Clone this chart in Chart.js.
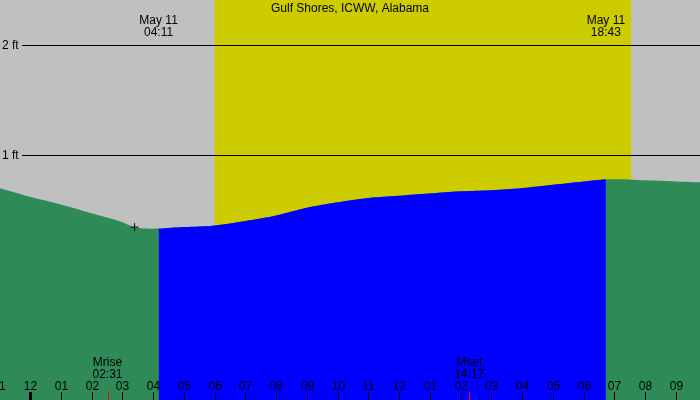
<!DOCTYPE html>
<html>
<head>
<meta charset="utf-8">
<script src="https://cdn.jsdelivr.net/npm/chart.js@4/dist/chart.umd.min.js"></script>
<style>
  html, body { margin: 0; padding: 0; background: #c0c0c0; }
  #wrap { width: 700px; height: 400px; }
</style>
</head>
<body>
<div id="wrap"><canvas id="tide"></canvas></div>
<script>
// Tide heights (ft), hours from midnight May 11
const tideHours = [-1, 0, 1, 2, 3, 3.4, 4, 5, 6, 7, 8, 9, 10, 11, 12, 13, 14, 15, 16, 17, 18, 19, 20, 21, 22];
const tideFeet  = [0.70, 0.62, 0.55, 0.47, 0.39, 0.345, 0.33, 0.345, 0.36, 0.40, 0.45, 0.52, 0.57, 0.61, 0.63, 0.65, 0.67, 0.68, 0.70, 0.73, 0.76, 0.78, 0.77, 0.76, 0.75];

// Night-time segment (blue), between the two top labels
const nightHours = [4.18, 5, 6, 7, 8, 9, 10, 11, 12, 13, 14, 15, 16, 17, 18, 18.72];
const nightFeet  = [0.33, 0.345, 0.36, 0.40, 0.45, 0.52, 0.57, 0.61, 0.63, 0.65, 0.67, 0.68, 0.70, 0.73, 0.76, 0.78];

const lowTide = { h: 3.4, ft: 0.345 };
const daylight = [6.0, 19.54];

const hourTicks  = [-1, 0, 1, 2, 3, 4, 5, 6, 7, 8, 9, 10, 11, 12, 13, 14, 15, 16, 17, 18, 19, 20, 21];
const hourLabels = ['11', '12', '01', '02', '03', '04', '05', '06', '07', '08', '09', '10', '11', '12', '01', '02', '03', '04', '05', '06', '07', '08', '09'];
const feetTicks  = [0, 1, 2];

const topLabels = [
    { h: 4.18, lines: ['May 11', '04:11'] },
    { h: 18.72, lines: ['May 11', '18:43'] }
];
const moonEvents = [
    { h: 2.52, lines: ['Mrise', '02:31'] },
    { h: 14.28, lines: ['Mset', '14:17'] }
];

const FONT = '12px "Liberation Sans", Arial, sans-serif';

// Background: gray + daylight band + ft gridlines
const backdrop = {
    id: 'backdrop',
    beforeDatasetsDraw(chart) {
        const { ctx, scales: { x, y } } = chart;
        ctx.save();
        ctx.fillStyle = '#c0c0c0';
        ctx.fillRect(0, 0, chart.width, chart.height);
        ctx.fillStyle = '#cccc00';
        const x0 = x.getPixelForValue(daylight[0]);
        const x1 = x.getPixelForValue(daylight[1]);
        ctx.fillRect(x0, 0, x1 - x0, chart.height);
        ctx.strokeStyle = '#000';
        ctx.lineWidth = 1;
        ctx.font = FONT;
        ctx.fillStyle = '#000';
        ctx.textBaseline = 'middle';
        feetTicks.forEach(f => {
            const py = Math.round(y.getPixelForValue(f)) + 0.5;
            ctx.beginPath();
            ctx.moveTo(22, py);
            ctx.lineTo(chart.width, py);
            ctx.stroke();
            ctx.fillText(f + ' ft', 2, py);
        });
        ctx.restore();
    },
    afterDatasetsDraw(chart) {
        const { ctx, scales: { x, y } } = chart;
        ctx.save();
        ctx.font = FONT;
        ctx.fillStyle = '#000';
        ctx.textAlign = 'center';
        ctx.textBaseline = 'alphabetic';
        ctx.fillText('Gulf Shores, ICWW, Alabama', 350, 12);
        topLabels.forEach(t => {
            const px = x.getPixelForValue(t.h);
            ctx.fillText(t.lines[0], px, 24);
            ctx.fillText(t.lines[1], px, 36);
        });
        moonEvents.forEach(m => {
            const px = x.getPixelForValue(m.h);
            ctx.fillText(m.lines[0], px, 366);
            ctx.fillText(m.lines[1], px, 378);
            ctx.strokeStyle = '#ff0000';
            ctx.beginPath();
            ctx.moveTo(Math.round(px) + 0.5, 392);
            ctx.lineTo(Math.round(px) + 0.5, 400);
            ctx.stroke();
        });
        ctx.strokeStyle = '#000';
        hourTicks.forEach((h, i) => {
            const px = Math.round(x.getPixelForValue(h)) + 0.5;
            ctx.fillText(hourLabels[i], px, 390);
            ctx.lineWidth = h === 0 ? 3 : 1;
            ctx.beginPath();
            ctx.moveTo(px, 392);
            ctx.lineTo(px, 400);
            ctx.stroke();
        });
        // low tide marker
        const lx = x.getPixelForValue(lowTide.h), ly = y.getPixelForValue(lowTide.ft);
        ctx.lineWidth = 1;
        ctx.beginPath();
        ctx.moveTo(lx - 4, ly); ctx.lineTo(lx + 4, ly);
        ctx.moveTo(lx, ly - 4); ctx.lineTo(lx, ly + 4);
        ctx.stroke();
        ctx.restore();
    }
};

new Chart(document.getElementById('tide'), {
    type: 'line',
    data: {
        datasets: [
            {
                data: nightHours.map((h, i) => ({ x: h, y: nightFeet[i] })),
                backgroundColor: '#0000ff',
                borderWidth: 0,
                pointRadius: 0,
                fill: 'start',
                tension: 0.4,
                order: 0
            },
            {
                data: tideHours.map((h, i) => ({ x: h, y: tideFeet[i] })),
                backgroundColor: '#2e8b57',
                borderWidth: 0,
                pointRadius: 0,
                fill: 'start',
                tension: 0.4,
                order: 1
            }
        ]
    },
    options: {
        responsive: true,
        maintainAspectRatio: false,
        animation: false,
        layout: { padding: 0 },
        plugins: { legend: { display: false }, tooltip: { enabled: false } },
        scales: {
            x: { type: 'linear', min: -0.975, max: 21.78, display: false },
            y: { min: -1.227, max: 2.41, display: false }
        }
    },
    plugins: [backdrop]
});
</script>
</body>
</html>
